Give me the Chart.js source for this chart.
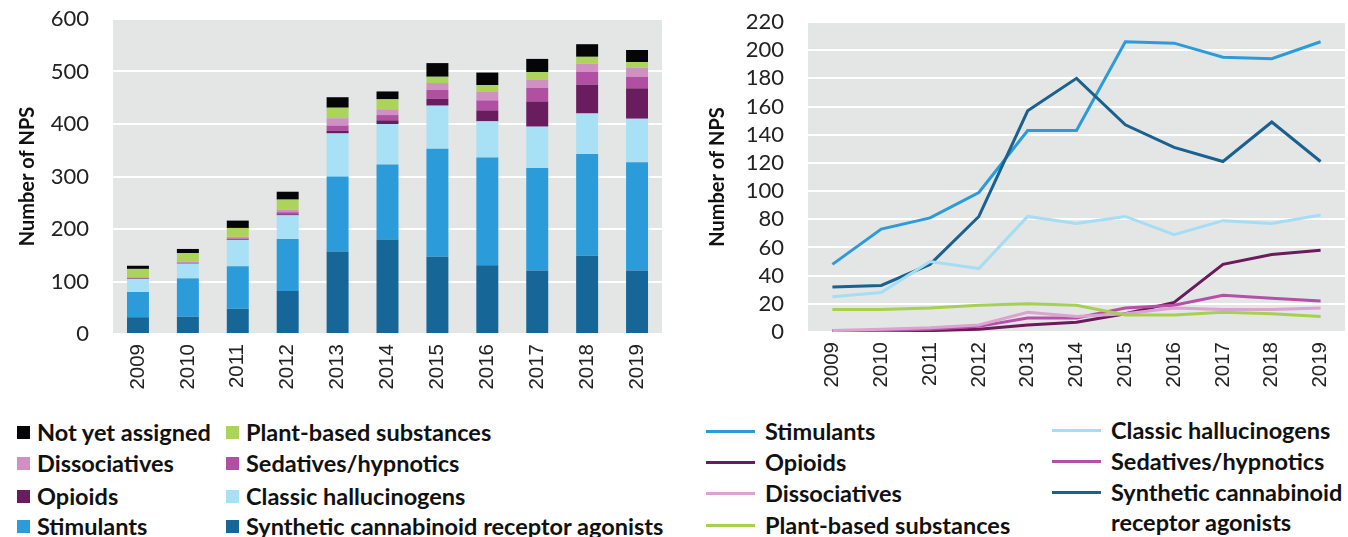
<!DOCTYPE html>
<html>
<head>
<meta charset="utf-8">
<script src="https://cdn.jsdelivr.net/npm/chart.js@4.4.1/dist/chart.umd.min.js"></script>
<style>
    body { margin: 0; background: #fff; width: 1348px; height: 537px; overflow: hidden; position: relative; font-family: Lato, sans-serif; }
    #leftWrap { position: absolute; left: 0; top: 0; width: 680px; height: 400px; }
    #rightWrap { position: absolute; left: 690px; top: 0; width: 658px; height: 400px; }
    .leg { position: absolute; font-weight: bold; font-size: 23.5px; color: #111; white-space: nowrap; line-height: 26px; }
    .sq { position: absolute; width: 13px; height: 13px; }
    .ln { position: absolute; height: 3px; }
</style>
</head>
<body>
<div id="leftWrap"><canvas id="barChart"></canvas></div>
<div id="rightWrap"><canvas id="lineChart"></canvas></div>
<div id="legends"></div>
<script>
const years = ['2009', '2010', '2011', '2012', '2013', '2014', '2015', '2016', '2017', '2018', '2019'];

const notYetAssigned = [6, 8, 14, 15, 20, 15, 26, 24, 25, 24, 23];
const plantBased = [16, 16, 17, 19, 20, 19, 12, 12, 14, 13, 11];
const dissociatives = [1, 2, 3, 5, 14, 11, 13, 17, 16, 16, 17];
const sedatives = [1, 1, 2, 4, 10, 10, 17, 19, 26, 24, 22];
const opioids = [1, 1, 1, 2, 5, 7, 13, 21, 48, 55, 58];
const classicHallucinogens = [25, 28, 50, 45, 82, 77, 82, 69, 79, 77, 83];
const stimulants = [48, 73, 81, 99, 143, 143, 206, 205, 195, 194, 206];
const syntheticCannabinoids = [32, 33, 48, 82, 157, 180, 147, 131, 121, 149, 121];

// plot area grey background
const plotBg = {
    id: 'plotBg',
    beforeDraw(chart) {
        const ctx = chart.ctx;
        const a = chart.chartArea;
        ctx.save();
        ctx.fillStyle = '#e3e6e5';
        ctx.fillRect(a.left, a.top, a.right - a.left, a.bottom - a.top);
        ctx.restore();
    }
};

function yAxis(max, step, width) {
    return {
        min: 0,
        max: max,
        border: { display: false },
        grid: { color: '#ffffff', lineWidth: 2, drawTicks: false },
        ticks: { stepSize: step, autoSkip: false, padding: 24, color: '#222', font: { family: 'Lato', size: 22 } },
        title: { display: true, text: 'Number of NPS', color: '#111', padding: { top: 16 }, font: { family: 'Lato', size: 20, weight: 'bold' } },
        afterFit: function (scale) {
            scale.width = width;
            scale.paddingTop = 0;
            scale.paddingBottom = 0;
        }
    };
}

function xAxis(height, stacked) {
    return {
        stacked: stacked,
        offset: true,
        border: { display: false },
        grid: { display: false, drawTicks: false },
        ticks: { minRotation: 90, maxRotation: 90, autoSkip: false, padding: 10, color: '#222', font: { family: 'Liberation Sans', size: 20.5 } },
        afterFit: function (scale) {
            scale.height = height;
            scale.paddingLeft = 0;
            scale.paddingRight = 0;
        }
    };
}

new Chart(document.getElementById('barChart'), {
    type: 'bar',
    data: {
        labels: years,
        datasets: [
            { label: 'Synthetic cannabinoid receptor agonists', data: syntheticCannabinoids, backgroundColor: '#166797' },
            { label: 'Stimulants', data: stimulants, backgroundColor: '#2b9cd9' },
            { label: 'Classic hallucinogens', data: classicHallucinogens, backgroundColor: '#a8e1f6' },
            { label: 'Opioids', data: opioids, backgroundColor: '#6a1d5e' },
            { label: 'Sedatives/hypnotics', data: sedatives, backgroundColor: '#b14fa3' },
            { label: 'Dissociatives', data: dissociatives, backgroundColor: '#d090c3' },
            { label: 'Plant-based substances', data: plantBased, backgroundColor: '#acd35a' },
            { label: 'Not yet assigned', data: notYetAssigned, backgroundColor: '#050508' }
        ]
    },
    options: {
        responsive: true,
        maintainAspectRatio: false,
        animation: false,
        barPercentage: 0.44,
        categoryPercentage: 1,
        layout: { padding: { top: 19, right: 18, left: 0, bottom: 0 } },
        plugins: { legend: { display: false }, tooltip: { enabled: false } },
        scales: {
            x: xAxis(66, true),
            y: Object.assign(yAxis(600, 100, 113), { stacked: true })
        }
    },
    plugins: [plotBg]
});

new Chart(document.getElementById('lineChart'), {
    type: 'line',
    data: {
        labels: years,
        datasets: [
            { label: 'Plant-based substances', data: plantBased, borderColor: '#a6d04f' },
            { label: 'Dissociatives', data: dissociatives, borderColor: '#dba3d0' },
            { label: 'Sedatives/hypnotics', data: sedatives, borderColor: '#b64fa8' },
            { label: 'Opioids', data: opioids, borderColor: '#6b1a5c' },
            { label: 'Classic hallucinogens', data: classicHallucinogens, borderColor: '#a5ddf5' },
            { label: 'Synthetic cannabinoid receptor agonists', data: syntheticCannabinoids, borderColor: '#1a6190' },
            { label: 'Stimulants', data: stimulants, borderColor: '#2b9cd9' }
        ]
    },
    options: {
        responsive: true,
        maintainAspectRatio: false,
        animation: false,
        elements: {
            line: { tension: 0, borderWidth: 3, fill: false },
            point: { radius: 0 }
        },
        layout: { padding: { top: 22, right: 3, left: 0, bottom: 0 } },
        plugins: { legend: { display: false }, tooltip: { enabled: false } },
        scales: {
            x: xAxis(68, false),
            y: yAxis(220, 20, 118)
        }
    },
    plugins: [plotBg]
});

// legends (HTML) : label, colour, x, y centre
const leftLegend = [
    ['Not yet assigned', '#050508', 17, 432],
    ['Plant-based substances', '#acd35a', 226, 432],
    ['Dissociatives', '#d090c3', 17, 463],
    ['Sedatives/hypnotics', '#b14fa3', 226, 463],
    ['Opioids', '#6a1d5e', 17, 496],
    ['Classic hallucinogens', '#a8e1f6', 226, 496],
    ['Stimulants', '#2b9cd9', 17, 526],
    ['Synthetic cannabinoid receptor agonists', '#166797', 226, 526]
];
const rightLegend = [
    ['Stimulants', '#2b9cd9', 706, 431],
    ['Opioids', '#6b1a5c', 706, 462],
    ['Dissociatives', '#dba3d0', 706, 493],
    ['Plant-based substances', '#a6d04f', 706, 525],
    ['Classic hallucinogens', '#a5ddf5', 1052, 430],
    ['Sedatives/hypnotics', '#b64fa8', 1052, 461],
    ['Synthetic cannabinoid', '#1a6190', 1052, 492]
];

let html = '';
for (let i = 0; i < leftLegend.length; i++) {
    let item = leftLegend[i];
    html += '<div class="sq" style="left:' + item[2] + 'px;top:' + (item[3] - 6) + 'px;background:' + item[1] + '"></div>';
    html += '<div class="leg" style="left:' + (item[2] + 20) + 'px;top:' + (item[3] - 13) + 'px">' + item[0] + '</div>';
}
for (let i = 0; i < rightLegend.length; i++) {
    let item = rightLegend[i];
    html += '<div class="ln" style="left:' + item[2] + 'px;top:' + (item[3] - 1) + 'px;width:49px;background:' + item[1] + '"></div>';
    html += '<div class="leg" style="left:' + (item[2] + 59) + 'px;top:' + (item[3] - 13) + 'px">' + item[0] + '</div>';
}
html += '<div class="leg" style="left:1111px;top:509px">receptor agonists</div>';
document.getElementById('legends').innerHTML = html;
</script>
</body>
</html>
